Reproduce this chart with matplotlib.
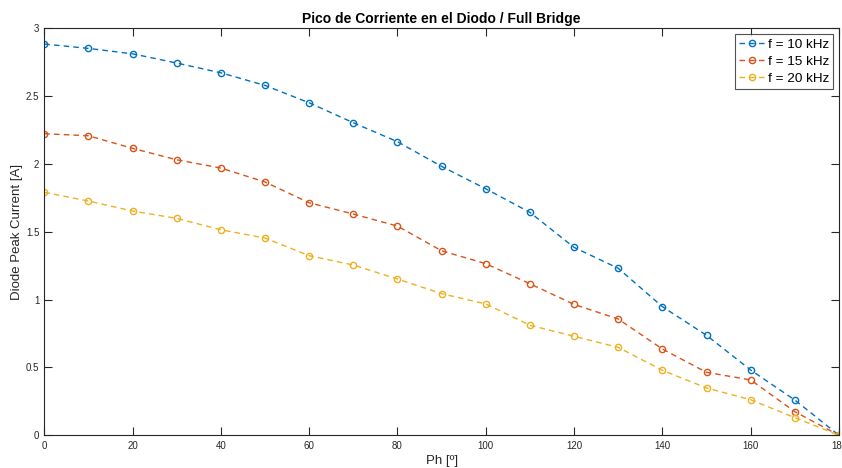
import matplotlib
matplotlib.use("Agg")
import matplotlib.pyplot as plt

# datos
ph = [0, 10, 20, 30, 40, 50, 60, 70, 80, 90, 100, 110, 120, 130, 140, 150, 160, 170, 180]
i_10k = [2.884, 2.852, 2.812, 2.744, 2.672, 2.579, 2.451, 2.304, 2.164, 1.982,
         1.817, 1.643, 1.385, 1.231, 0.948, 0.737, 0.481, 0.260, 0.0]
i_15k = [2.223, 2.208, 2.115, 2.031, 1.970, 1.867, 1.714, 1.631, 1.542, 1.360,
         1.265, 1.117, 0.965, 0.857, 0.636, 0.464, 0.408, 0.174, 0.0]
i_20k = [1.791, 1.727, 1.653, 1.599, 1.515, 1.454, 1.324, 1.255, 1.152, 1.044,
         0.968, 0.811, 0.730, 0.648, 0.479, 0.349, 0.262, 0.130, 0.0]
labels = ["f = 10 kHz", "f = 15 kHz", "f = 20 kHz"]
colors = ["#0072BD", "#D95319", "#EDB120"]
xticks = list(range(0, 181, 20))
yticks = [0, 0.5, 1, 1.5, 2, 2.5, 3]

plt.rcParams['font.family'] = ['Liberation Sans', 'DejaVu Sans']
axcol = "#262626"

fig = plt.figure(figsize=(8.42, 4.68), dpi=100)
ax = fig.add_axes([0.0526, 0.0699, 0.9438, 0.8696])

for y, lab, c in zip([i_10k, i_15k, i_20k], labels, colors):
    ax.plot(ph, y, linestyle="--", dashes=(4, 3), color=c, linewidth=1.0,
            marker="o", markersize=4.5, markerfacecolor="none",
            markeredgewidth=1.0, label=lab)

ax.set_xlim(0, 180)
ax.set_ylim(0, 3)
ax.set_xticks(xticks)
ax.set_yticks(yticks)
ax.set_yticklabels(["0", "0.5", "1", "1.5", "2", "2.5", "3"])
ax.tick_params(direction="in", length=5.8, width=0.8, top=True, right=True,
               labelsize=7, colors=axcol)
ax.tick_params(axis="x", pad=4)
ax.tick_params(axis="y", pad=3.5)
for s in ax.spines.values():
    s.set_color(axcol)
    s.set_linewidth(0.8)

ax.set_title("Pico de Corriente en el Diodo / Full Bridge", fontsize=10,
             fontweight="bold", color="black", pad=3.5)
ax.set_xlabel("Ph [º]", fontsize=9.5, color=axcol, labelpad=3)
ax.set_ylabel("Diode Peak Current [A]", fontsize=9.5, color=axcol, labelpad=2)

leg = ax.legend(loc="upper right", fontsize=9.7, frameon=True, fancybox=False,
                handlelength=1.9, handletextpad=0.2, borderpad=0.3,
                labelspacing=0.35, borderaxespad=0.45)
leg.get_frame().set_edgecolor(axcol)
leg.get_frame().set_linewidth(0.8)

fig.savefig("out.png", dpi=100)
